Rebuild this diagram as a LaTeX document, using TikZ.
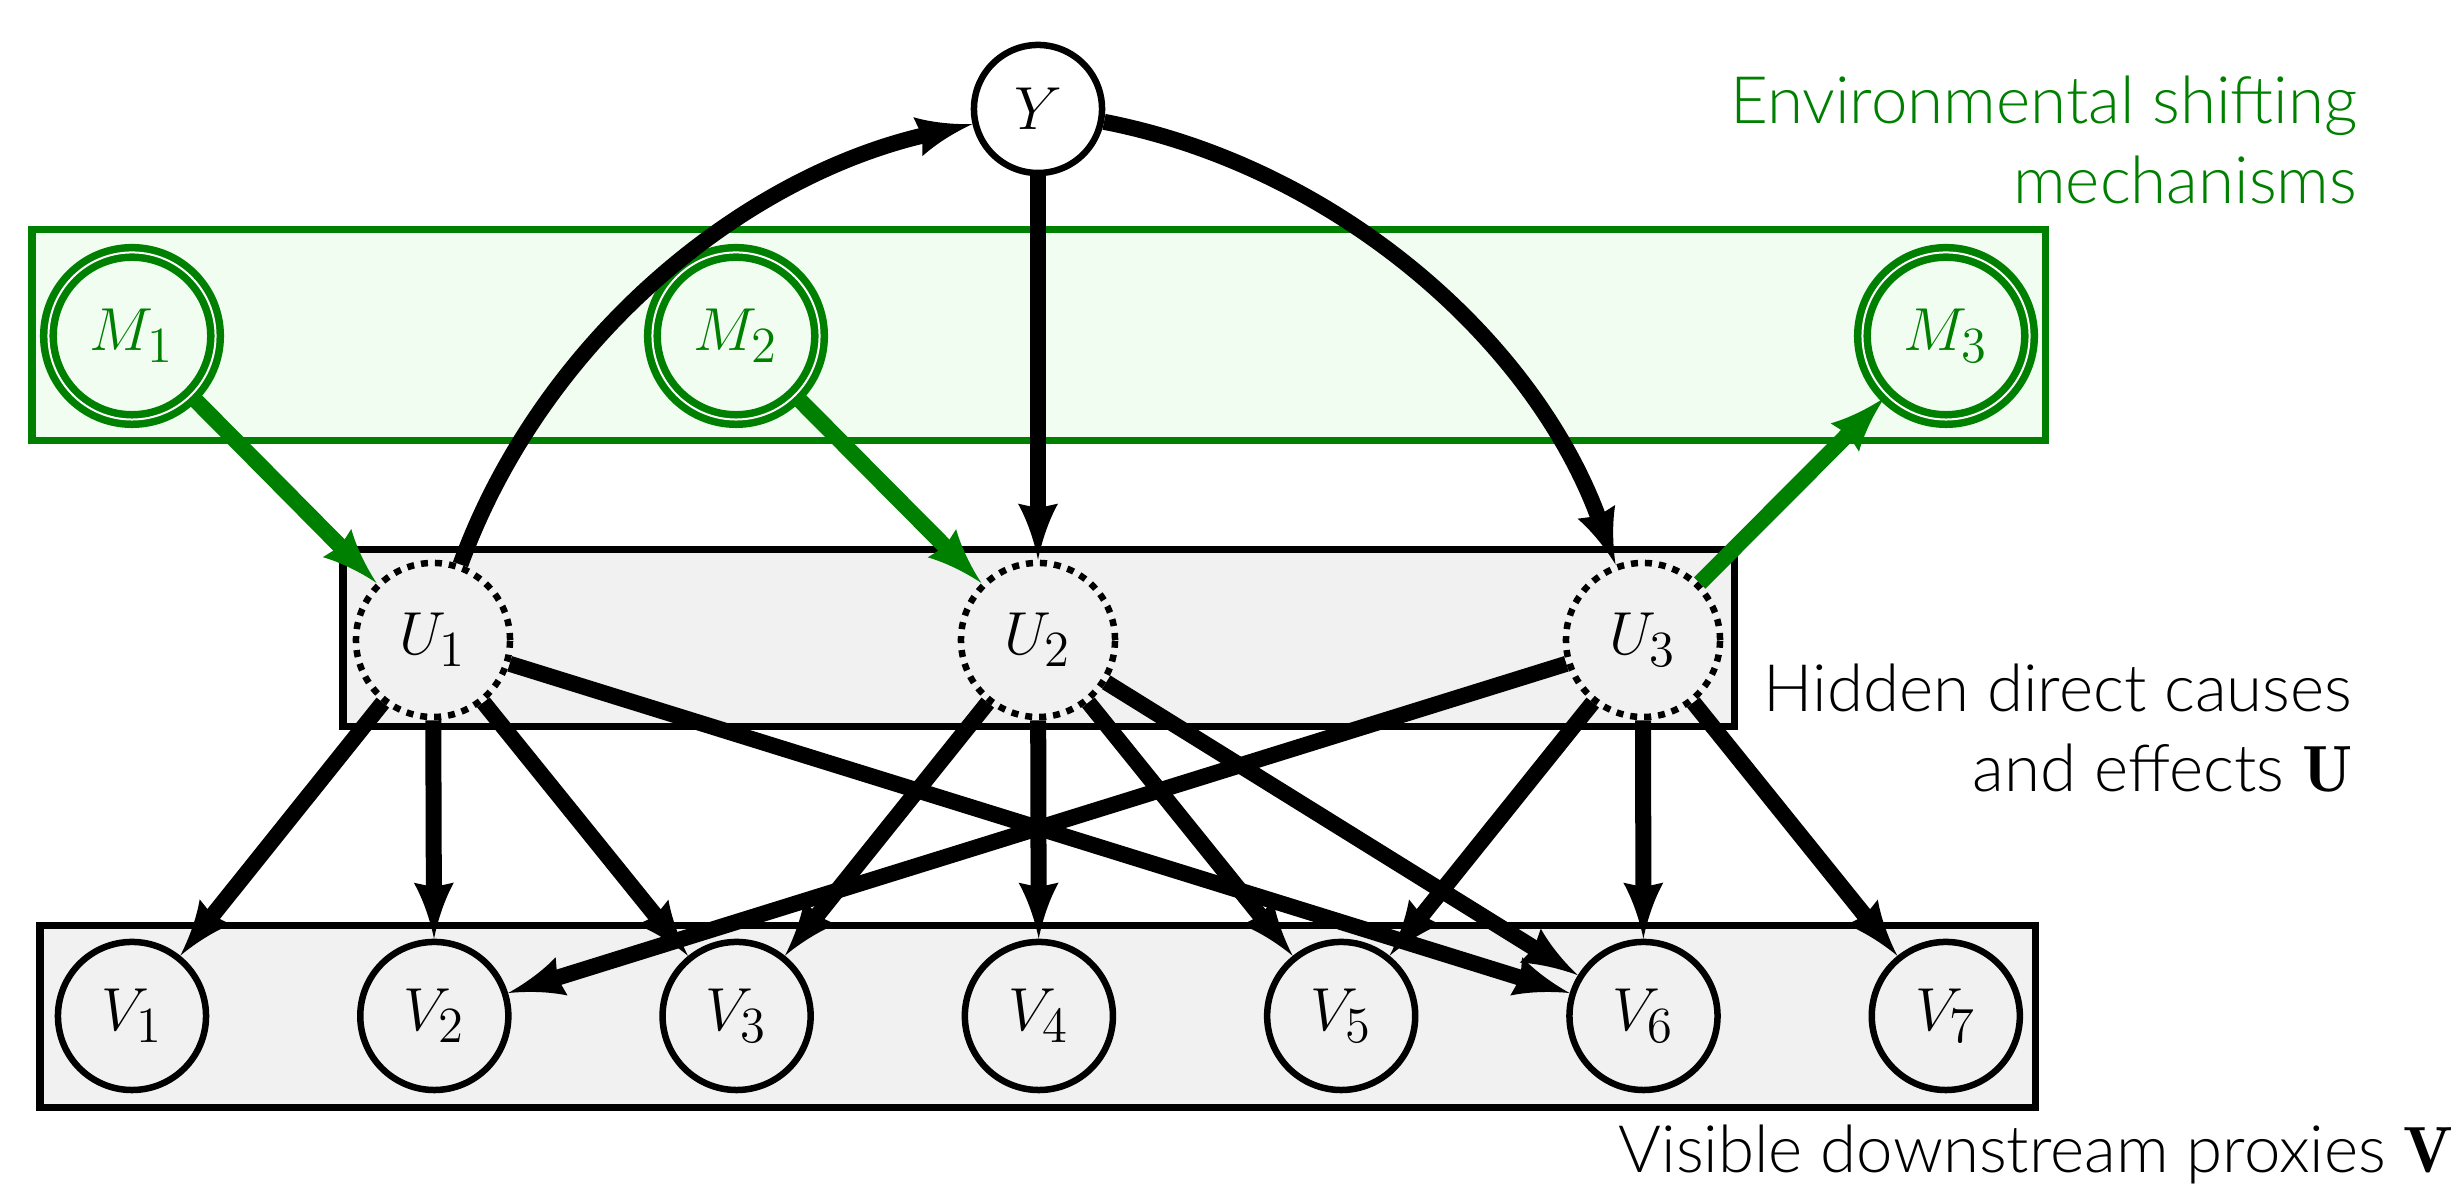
\documentclass[tikz,border=0pt]{standalone}
\usepackage{fontspec}
\usetikzlibrary{arrows.meta}
\newfontfamily\lightfont{Lato Light}

\definecolor{envgreen}{RGB}{0,128,0}
\definecolor{envfill}{RGB}{242,253,242}
\definecolor{boxgray}{RGB}{241,241,241}

% Filled arrow head with concave flanks and an almost flat back
\pgfdeclarearrow{
  name = Flare,
  parameters = {\the\pgfarrowlength,\the\pgfarrowwidth},
  setup code = {
    \pgfarrowssettipend{0pt}
    \pgfarrowssetlineend{-0.85\pgfarrowlength}
    \pgfarrowssetbackend{-\pgfarrowlength}
    \pgfarrowssetvisualbackend{-0.92\pgfarrowlength}
    \pgfarrowssavethe\pgfarrowlength
    \pgfarrowssavethe\pgfarrowwidth
  },
  drawing code = {
    \pgfpathmoveto{\pgfqpoint{0pt}{0pt}}
    \pgfpathcurveto{\pgfqpoint{-0.35\pgfarrowlength}{0.1\pgfarrowwidth}}%
      {\pgfqpoint{-0.72\pgfarrowlength}{0.28\pgfarrowwidth}}%
      {\pgfqpoint{-\pgfarrowlength}{0.5\pgfarrowwidth}}
    \pgfpathlineto{\pgfqpoint{-0.92\pgfarrowlength}{0pt}}
    \pgfpathlineto{\pgfqpoint{-\pgfarrowlength}{-0.5\pgfarrowwidth}}
    \pgfpathcurveto{\pgfqpoint{-0.72\pgfarrowlength}{-0.28\pgfarrowwidth}}%
      {\pgfqpoint{-0.35\pgfarrowlength}{-0.1\pgfarrowwidth}}%
      {\pgfqpoint{0pt}{0pt}}
    \pgfpathclose
    \pgfusepathqfill
  },
  defaults = {length = 5.6mm, width = 4.0mm}
}

\begin{document}
\begin{tikzpicture}[x=0.01cm, y=0.01cm,
  mathnode/.style={circle, inner sep=0pt, font=\fontsize{19pt}{23pt}\selectfont},
  ynode/.style={mathnode, draw, line width=0.065cm, fill=white, minimum size=1.28cm},
  mnode/.style={mathnode, draw=envgreen, text=envgreen, line width=0.075cm,
                double=white, double distance=0.02cm, fill=envfill, minimum size=1.67cm},
  unode/.style={mathnode, draw, line width=0.065cm, dash pattern=on 0.07cm off 0.07cm,
                fill=boxgray, minimum size=1.54cm},
  vnode/.style={mathnode, draw, line width=0.065cm, fill=boxgray, minimum size=1.48cm},
  groupbox/.style={line width=0.07cm},
  conn/.style={line width=0.16cm, -{Flare}},
  mconn/.style={conn, draw=envgreen},
  sidetext/.style={inner sep=0pt, align=right, anchor=base east,
                   font=\lightfont\fontsize{18.6pt}{22.8pt}\selectfont}
]
\useasboundingbox (0,0) rectangle (2456,1198);

% group frames
\draw[groupbox, draw=envgreen, fill=envfill] (32,757) rectangle (2045,968);
\draw[groupbox, fill=boxgray] (343,471) rectangle (1734,648);
\draw[groupbox, fill=boxgray] (40,90) rectangle (2035,272);

% target
\node[ynode] (Y) at (1038,1089) {$Y$};

% shifting mechanisms
\node[mnode] (M1) at (132,862) {$M_1$};
\node[mnode] (M2) at (736,862) {$M_2$};
\node[mnode] (M3) at (1946,862) {$M_3$};

% hidden causes and effects
\node[unode] (U1) at (433,558) {$U_1$};
\node[unode] (U2) at (1038,558) {$U_2$};
\node[unode] (U3) at (1643,558) {$U_3$};

% visible proxies
\foreach \i in {1,...,7} {
  \node[vnode] (V\i) at ({132+302.3*(\i-1)},182) {$V_{\i}$};
}

% connections through the target
\draw[conn] (U1) to[out=70, in=193, looseness=0.9] (Y);
\draw[conn] (Y) -- (U2);
\draw[conn] (Y) to[out=-11, in=110, looseness=0.9] (U3);

% mechanisms acting on the hidden variables
\draw[mconn] (M1) -- (U1);
\draw[mconn] (M2) -- (U2);
\draw[mconn] (U3) -- (M3);

% hidden variables to proxies
\draw[conn] (U1) -- (V1);
\draw[conn] (U1) -- (V2);
\draw[conn] (U1) -- (V3);
\draw[conn] (U1) -- (V6);
\draw[conn] (U2) -- (V3);
\draw[conn] (U2) -- (V4);
\draw[conn] (U2) -- (V5);
\draw[conn] (U2) -- (V6);
\draw[conn] (U3) -- (V2);
\draw[conn] (U3) -- (V5);
\draw[conn] (U3) -- (V6);
\draw[conn] (U3) -- (V7);

% descriptions (anchored at the baseline of their last line)
\node[sidetext, text=envgreen] (envlabel) at (2358,994) {Environmental shifting\\mechanisms};
\node[sidetext] (ulabel) at (2353,406) {Hidden direct causes\\and effects $\mathbf{U}$};
\node[sidetext] (vlabel) at (2454,25) {Visible downstream proxies $\mathbf{V}$};
\end{tikzpicture}
\end{document}
